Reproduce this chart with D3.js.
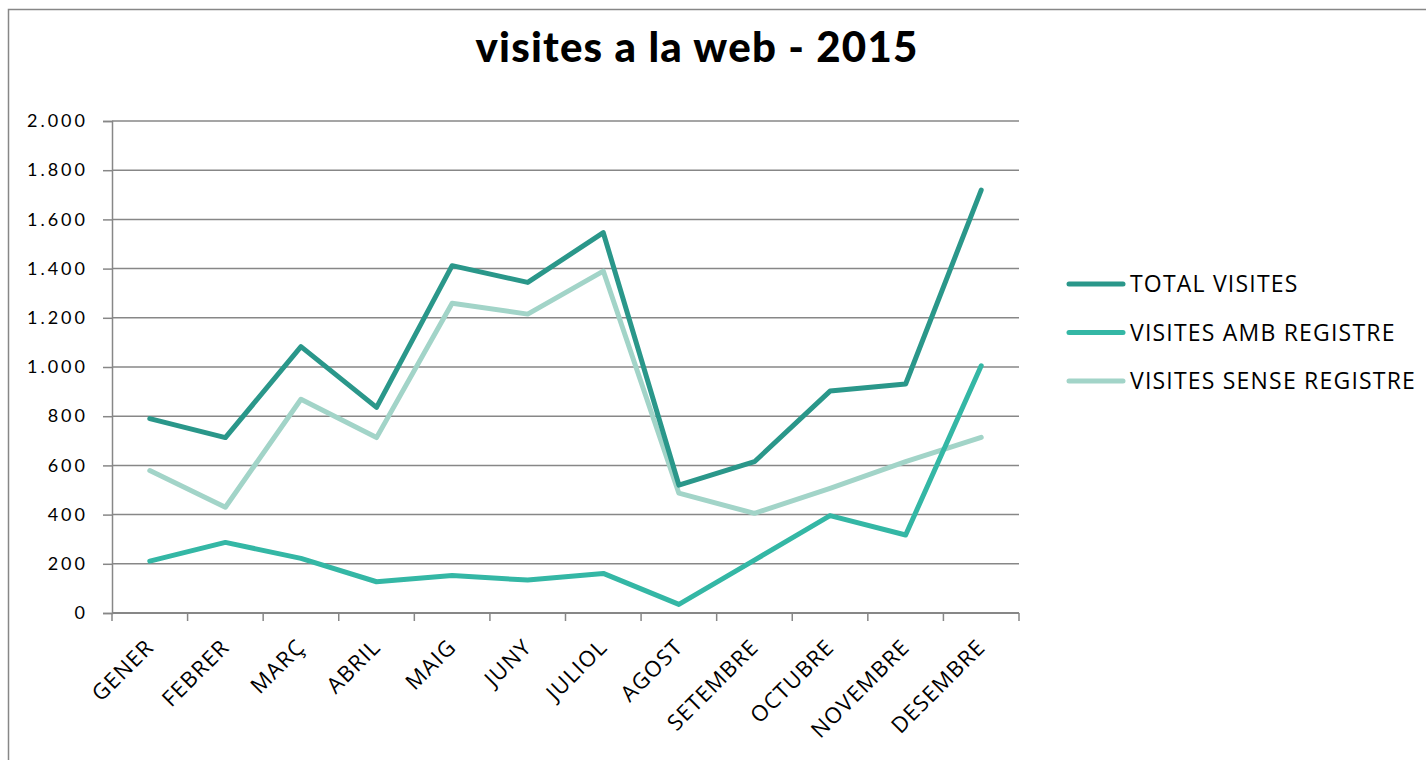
<!DOCTYPE html>
<html>
<head>
<meta charset="utf-8">
<script src="https://cdn.jsdelivr.net/npm/d3@7"></script>
<style>
  body { margin: 0; background: #fff; }
  svg { display: block; }
</style>
</head>
<body>
<svg id="chart"></svg>
<script>
// month labels
var months = ['GENER','FEBRER','MARÇ','ABRIL','MAIG','JUNY','JULIOL','AGOST','SETEMBRE','OCTUBRE','NOVEMBRE','DESEMBRE'];
// series
var totalVisites  = [790, 713, 1083, 836, 1412, 1344, 1546, 520, 615, 902, 931, 1719];
var ambRegistre   = [211, 287, 222, 127, 152, 134, 161, 35, 215, 396, 317, 1005];
var senseRegistre = [579, 430, 869, 713, 1259, 1215, 1390, 487, 405, 507, 615, 714];
var seriesNames = ['TOTAL VISITES','VISITES AMB REGISTRE','VISITES SENSE REGISTRE'];
var yTicks = [0, 200, 400, 600, 800, 1000, 1200, 1400, 1600, 1800, 2000];

var W = 1426, H = 760;
var margin = {top: 121, left: 112, right: 407, bottom: 147};
var width = W - margin.left - margin.right,
    height = H - margin.top - margin.bottom;
var gridColor = '#878787';
var colors = ['#2a978a', '#34b7a5', '#a2d4c8'];

var svg = d3.select('#chart').attr('width', W).attr('height', H);

// outer chart border
svg.append('rect')
  .attr('x', 8.5).attr('y', 9.5)
  .attr('width', W).attr('height', H)
  .attr('fill', 'none')
  .attr('stroke', gridColor)
  .attr('stroke-width', 1.5);

svg.append('text')
  .attr('x', 697).attr('y', 62)
  .attr('text-anchor', 'middle')
  .style('font-family', 'Lato, "Open Sans", sans-serif')
  .style('font-size', '42px')
  .style('font-weight', 900)
  .style('letter-spacing', '1.2px')
  .text('visites a la web - 2015');

var g = svg.append('g')
  .attr('transform', 'translate(' + margin.left + ',' + margin.top + ')');

var x = d3.scaleBand().domain(months).range([0, width]);
var y = d3.scaleLinear().domain([0, 2000]).range([height, 0]);

// horizontal grid + left ticks
var yAxis = g.append('g')
  .call(d3.axisLeft(y).tickValues(yTicks).tickSize(9).tickPadding(15)
    .tickFormat(function(d) { return d3.format(',')(d).replace(/,/g, '.'); }));
yAxis.select('.domain').attr('stroke', gridColor).attr('stroke-width', 1.5);
yAxis.selectAll('.tick line').attr('stroke', gridColor).attr('stroke-width', 1.5);
yAxis.selectAll('text')
  .style('font-family', 'Lato, "Open Sans", sans-serif')
  .style('font-size', '18px')
  .style('letter-spacing', '3px')
  .attr('fill', '#000');

g.append('g').selectAll('line')
  .data(yTicks)
  .join('line')
    .attr('x1', 0).attr('x2', width)
    .attr('y1', function(d) { return y(d); })
    .attr('y2', function(d) { return y(d); })
    .attr('stroke', gridColor)
    .attr('stroke-width', 1.5);

// x axis with ticks at band boundaries
var xAxis = g.append('g').attr('transform', 'translate(0,' + height + ')');
xAxis.append('line')
  .attr('x1', 0).attr('x2', width)
  .attr('stroke', gridColor).attr('stroke-width', 2);
var bounds = months.map(function(m) { return x(m); }).concat([width]);
xAxis.selectAll('.xt')
  .data(bounds)
  .join('line')
    .attr('class', 'xt')
    .attr('x1', function(d) { return d; })
    .attr('x2', function(d) { return d; })
    .attr('y1', 0).attr('y2', 8)
    .attr('stroke', gridColor).attr('stroke-width', 1.5);
xAxis.selectAll('.xl')
  .data(months)
  .join('text')
    .attr('class', 'xl')
    .attr('transform', function(d) {
      return 'translate(' + (x(d) + x.bandwidth() / 2) + ',30)rotate(-45)';
    })
    .attr('text-anchor', 'end')
    .attr('dy', '0.35em')
    .style('font-family', '"Open Sans", sans-serif')
    .style('font-size', '22px')
    .style('letter-spacing', '1.2px')
    .text(function(d) { return d; });

// lines
var allSeries = [totalVisites, ambRegistre, senseRegistre];
var line = d3.line()
  .x(function(d, i) { return x(months[i]) + x.bandwidth() / 2; })
  .y(function(d) { return y(d); });

g.selectAll('.serie')
  .data([allSeries[2], allSeries[1], allSeries[0]])
  .join('path')
    .attr('class', 'serie')
    .attr('d', line)
    .attr('fill', 'none')
    .attr('stroke', function(d, i) { return colors[2 - i]; })
    .attr('stroke-width', 5)
    .attr('stroke-linecap', 'round')
    .attr('stroke-linejoin', 'round');

// legend
var legend = svg.append('g').attr('transform', 'translate(1069,284)');
var leg = legend.selectAll('g')
  .data(seriesNames)
  .join('g')
    .attr('transform', function(d, i) { return 'translate(0,' + (i * 48.5) + ')'; });
leg.append('line')
  .attr('x1', 0).attr('x2', 54)
  .attr('stroke', function(d, i) { return colors[i]; })
  .attr('stroke-width', 5)
  .attr('stroke-linecap', 'round');
leg.append('text')
  .attr('x', 61).attr('dy', '0.35em')
  .style('font-family', '"Open Sans", sans-serif')
  .style('font-size', '23px')
  .style('letter-spacing', '1.2px')
  .text(function(d) { return d; });
</script>
</body>
</html>
